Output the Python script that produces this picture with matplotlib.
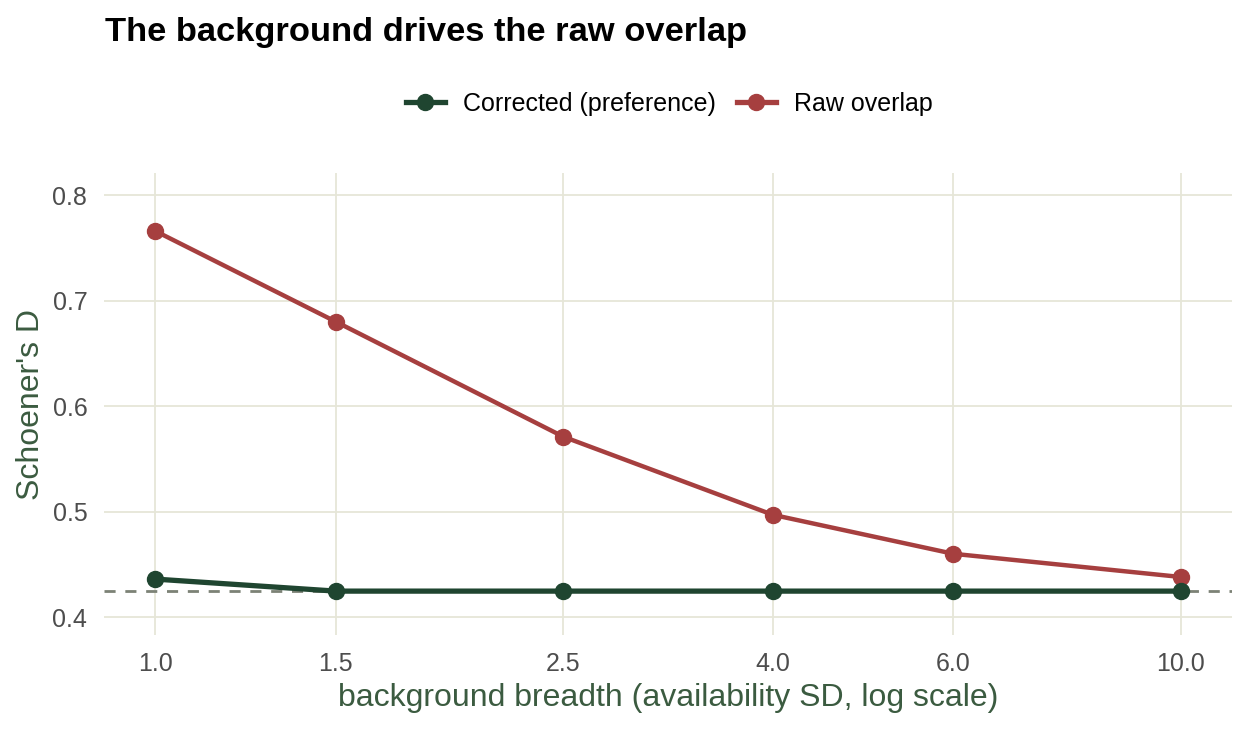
import matplotlib
matplotlib.use("Agg")
import matplotlib.pyplot as plt
from matplotlib.lines import Line2D

breadth = [1.0, 1.5, 2.5, 4.0, 6.0, 10.0]
corrected = [0.436, 0.4246, 0.4246, 0.4246, 0.4246, 0.4246]
raw = [0.766, 0.680, 0.571, 0.497, 0.460, 0.438]
reference_D = 0.4246
xtick_labels = ["1.0", "1.5", "2.5", "4.0", "6.0", "10.0"]
yticks = [0.4, 0.5, 0.6, 0.7, 0.8]

col_corr = "#1F4530"
col_raw = "#A63F3F"
grid_col = "#E6E6D8"
axis_title_col = "#3B5B40"
tick_col = "#4D4D4D"

plt.rcParams['font.family'] = ['Liberation Sans', 'DejaVu Sans']

W, H = 1248, 729
fig = plt.figure(figsize=(W / 100, H / 100), dpi=100)
ax = fig.add_axes([104 / W, 1 - 635 / H, (1232 - 104) / W, (635 - 173) / H])

ax.set_xscale('log')
ax.set_xlim(10 ** (-0.05), 10 ** 1.05)
ax.set_ylim(0.383, 0.821)

ax.axhline(reference_D, color="#7C8276", lw=2, ls=(0, (4, 3.5)), zorder=2)
ax.plot(breadth, raw, color=col_raw, lw=3.2, marker='o', ms=11.5, zorder=3,
        label="Raw overlap")
ax.plot(breadth, corrected, color=col_corr, lw=3.8, marker='o', ms=11.5, zorder=4,
        label="Corrected (preference)")

ax.set_xticks(breadth)
ax.set_xticklabels(xtick_labels)
ax.xaxis.set_minor_locator(matplotlib.ticker.NullLocator())
ax.set_yticks(yticks)
ax.set_yticklabels([f"{v:.1f}" for v in yticks])
ax.grid(True, color=grid_col, lw=1.3)
ax.set_axisbelow(True)
for s in ax.spines.values():
    s.set_visible(False)
ax.tick_params(length=0, labelsize=18, labelcolor=tick_col, pad=12)

ax.set_xlabel("background breadth (availability SD, log scale)", fontsize=23,
              color=axis_title_col, labelpad=5)
ax.set_ylabel("Schoener's D", fontsize=23, color=axis_title_col, labelpad=5)

fig.text(105 / W, 1 - 33 / H, "The background drives the raw overlap",
         fontsize=24.8, fontweight='bold', ha='left', va='center')

handles = [
    Line2D([], [], color=col_corr, lw=3.8, marker='o', ms=11.5),
    Line2D([], [], color=col_raw, lw=3.8, marker='o', ms=11.5),
]
fig.legend(handles, ["Corrected (preference)", "Raw overlap"], loc='center',
           bbox_to_anchor=(669 / W, 1 - 104 / H), ncol=2, frameon=False,
           fontsize=18, handlelength=1.56, columnspacing=0.84, handletextpad=0.72)

fig.savefig("out.png", dpi=100, facecolor='white')
